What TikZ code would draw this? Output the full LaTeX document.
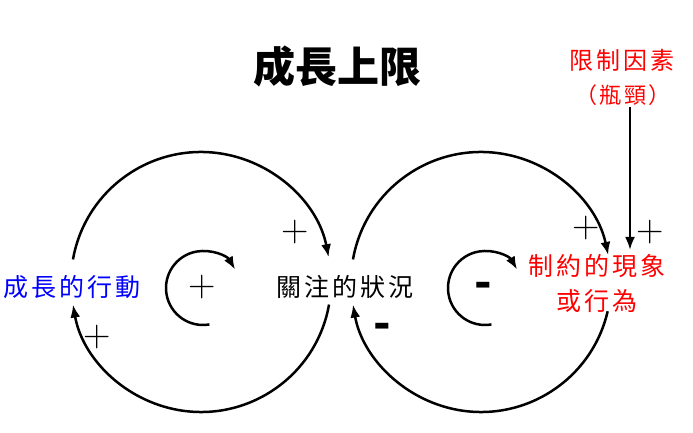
\documentclass[tikz,border=0pt]{standalone}
\usepackage{fontspec}
\usetikzlibrary{arrows.meta,positioning,calc}
\newfontfamily\cjkfont[LetterSpace=12]{Noto Sans CJK TC}
\newfontfamily\cjkhead{Noto Sans CJK TC}
\definecolor{ink}{HTML}{000000}
\definecolor{growC}{HTML}{0000FF}
\definecolor{limitC}{HTML}{FF0000}
\tikzset{
  >={Latex[length=13pt,width=10pt]},
  loopline/.style={->,ink,line width=2.5pt},
  headlab/.style={font=\cjkhead\bfseries\fontsize{42}{46}\selectfont,text=ink},
  varlab/.style={font=\cjkfont\fontsize{25}{35}\selectfont,align=center,inner sep=1pt},
  smalllab/.style={font=\cjkfont\fontsize{22}{26}\selectfont,inner sep=1pt},
  plussign/.style={font=\fontsize{38}{38}\selectfont,text=ink,inner sep=0pt},
  minussign/.style={font=\cjkhead\bfseries\fontsize{46}{46}\selectfont,text=ink,inner sep=0pt},
}
\begin{document}
\begin{tikzpicture}[x=1pt,y=1pt]
\useasboundingbox (0,0) rectangle (693,433);

\node[headlab] (title) at (337,366) {成長上限};

% ================= VARIABLES =================
\node[varlab,text=growC] (grow) at (72,146) {成長的行動};
\node[varlab] (state) at (345,146) {關注的狀況};
\node[varlab,text=limitC] (effect) at (597,150) {制約的現象\\或行為};
\node[varlab,text=limitC,font=\cjkfont\fontsize{24}{28}\selectfont] (limit) at (622,373) {限制因素};
\node[smalllab,text=limitC] (neck) at (623,338) {（瓶頸）};

% ================= LOOPS =================
\coordinate (lc) at (201,151);
\coordinate (rc) at (481,151);
\draw[loopline] ($(lc)+(170:130)$) arc[start angle=170,end angle=11,radius=130];
\draw[loopline] ($(lc)+(-10:130)$) arc[start angle=-10,end angle=-170,radius=130];
\draw[loopline] ($(rc)+(170:130)$) arc[start angle=170,end angle=12,radius=130];
\draw[loopline] ($(rc)+(-13:130)$) arc[start angle=-13,end angle=-170,radius=130];
\draw[loopline] ($(lc)+(2,-6)+(280:37)$) arc[start angle=280,end angle=30,radius=37];
\draw[loopline] ($(rc)+(4,-6)+(280:37)$) arc[start angle=280,end angle=30,radius=37];

% limit arrow
\coordinate (tip) at (630,183);
\draw[loopline] (tip |- neck.south) -- (tip);

% ================= SIGNS =================
\node[plussign] (s1) at (295,201) {+};
\node[plussign] (s2) at (97,96) {+};
\node[plussign] (s3) at (202,146) {+};
\node[plussign] (s4) at (586,205) {+};
\node[plussign] (s5) at (650,201) {+};
\node[minussign] (s6) at (382,102) {-};
\node[minussign] (s7) at (483,143) {-};

\end{tikzpicture}
\end{document}
